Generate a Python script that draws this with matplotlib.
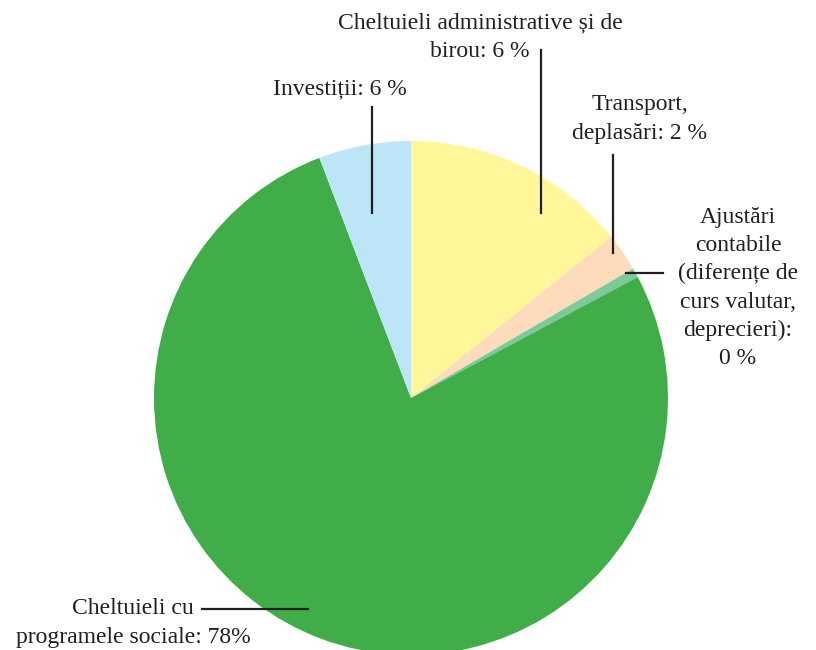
import matplotlib.pyplot as plt

# felii (estimate din imagine, in ordinea acelor de ceasornic de la ora 12)
categorii = ['Cheltuieli administrative și de birou', 'Transport, deplasări',
             'Ajustări contabile', 'Cheltuieli cu programele sociale', 'Investiții']
valori = [14.2, 2.4, 0.6, 77.0, 5.8]
culori = ['#FFF799', '#FDDBBB', '#7CC99A', '#41AD49', '#BDE5F8']

etichete = ['Cheltuieli administrative și de\nbirou: 6 %',
            'Transport,\ndeplasări: 2 %',
            'Ajustări\ncontabile\n(diferențe de\ncurs valutar,\ndeprecieri):\n0 %',
            'Cheltuieli cu\nprogramele sociale: 78%',
            'Investiții: 6 %']

W, H = 816, 650
fig = plt.figure(figsize=(W / 100, H / 100), dpi=100)
ax = fig.add_axes([0, 0, 1, 1])

cx, cy, r = 411, H - 398, 257
ax.pie(valori, colors=culori, startangle=90, counterclock=False,
       center=(cx, cy), radius=r, frame=True,
       wedgeprops=dict(linewidth=0))
ax.set_xlim(0, W)
ax.set_ylim(0, H)
ax.axis('off')

txt = dict(family='Liberation Serif', fontsize=17, color='#231F20',
           ha='center', va='center', linespacing=1.45)
ln = dict(color='#231F20', lw=1.6)

def y(p):
    return H - p

ax.text(480, y(37), etichete[0], **txt)
ax.plot([541, 541], [y(50), y(213)], **ln)

ax.text(640, y(119), etichete[1], **txt)
ax.plot([613, 613], [y(155), y(253)], **ln)

ax.text(738, y(288), etichete[2], **txt)
ax.plot([626, 663], [y(273), y(273)], **ln)

ax.text(133, y(623), etichete[3], **txt)
ax.plot([202, 308], [y(609), y(609)], **ln)

ax.text(340, y(89), etichete[4], **txt)
ax.plot([372, 372], [y(107), y(213)], **ln)

fig.savefig('out.png', dpi=100)
